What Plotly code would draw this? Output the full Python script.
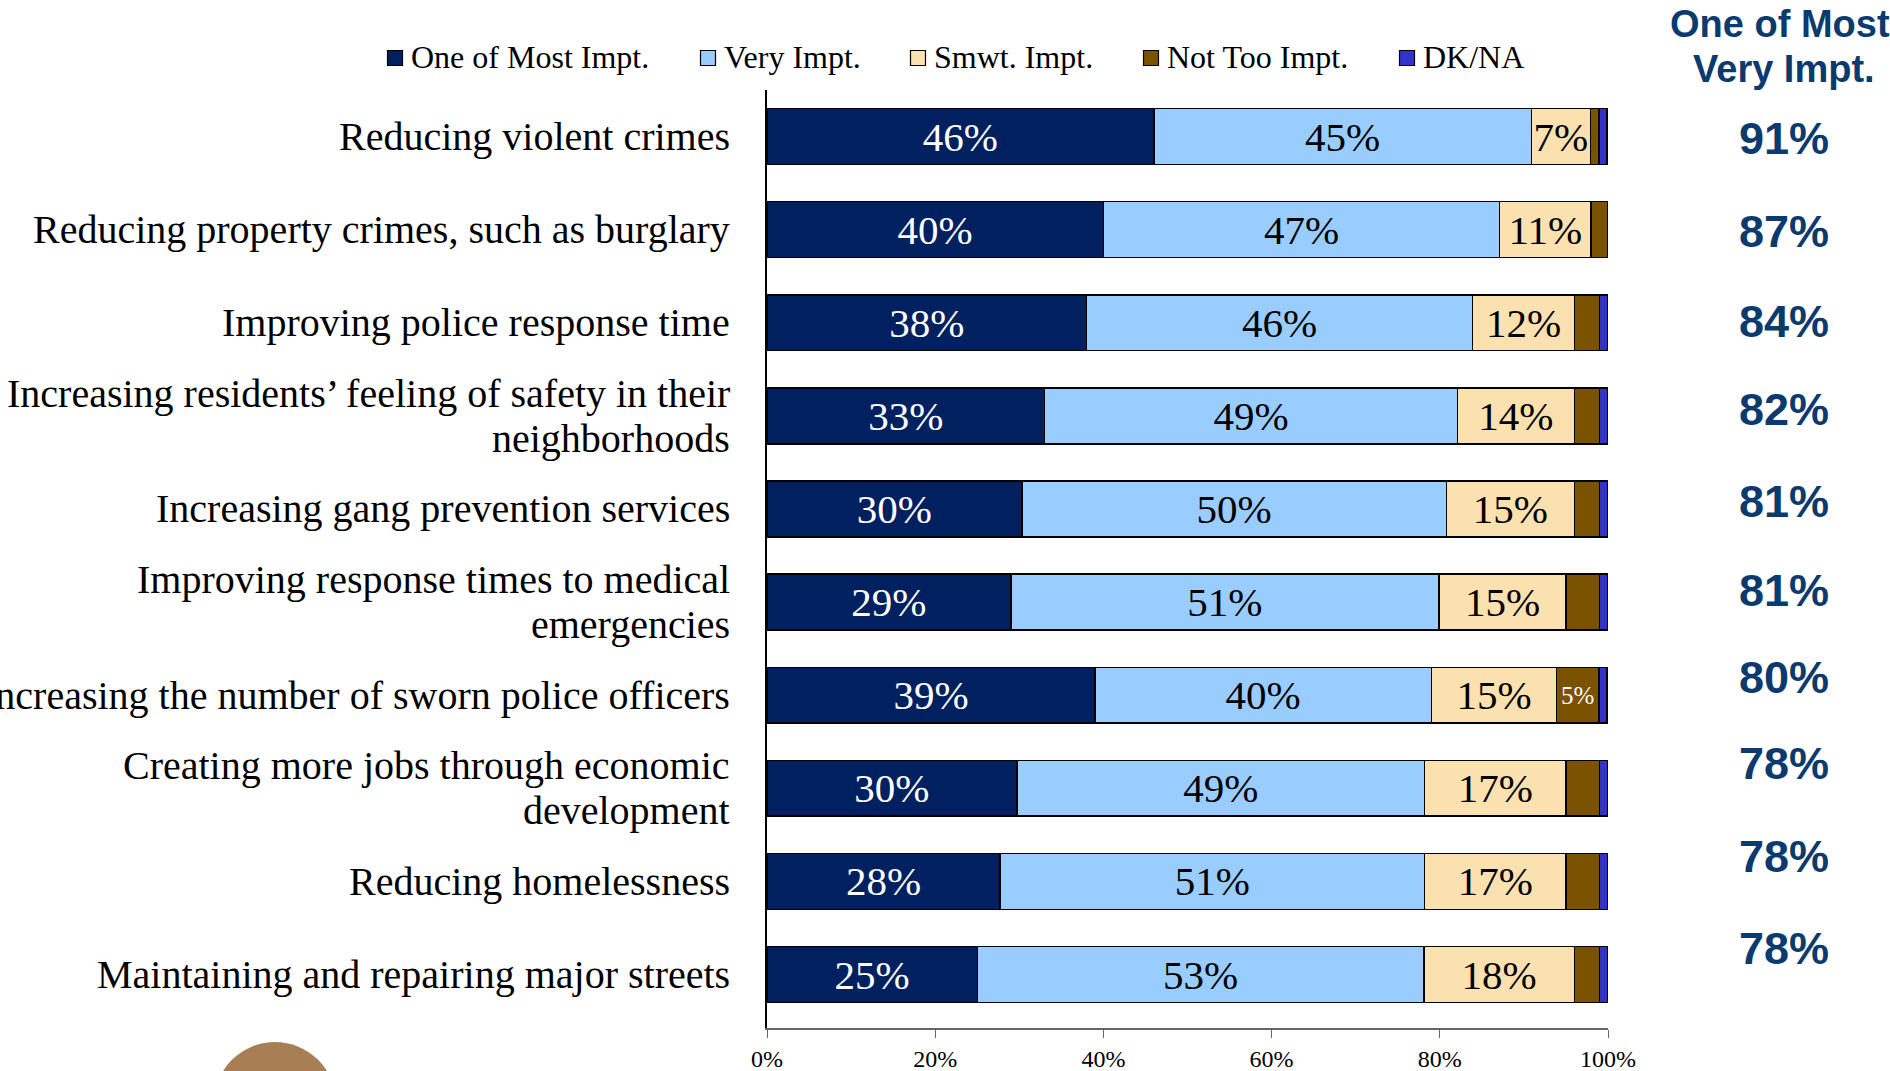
import plotly.graph_objects as go

# ---------------- data ----------------
categories = [
    "Reducing violent crimes",
    "Reducing property crimes, such as burglary",
    "Improving police response time",
    "Increasing residents’ feeling of safety in their<br>neighborhoods",
    "Increasing gang prevention services",
    "Improving response times to medical<br>emergencies",
    "Increasing the number of sworn police officers",
    "Creating more jobs through economic<br>development",
    "Reducing homelessness",
    "Maintaining and repairing major streets",
]
one_most = [46.0, 40.0, 38.0, 33.0, 30.3, 29.0, 39.0, 29.7, 27.7, 25.0]
very = [44.9, 47.1, 45.9, 49.1, 50.5, 50.9, 40.0, 48.5, 50.5, 53.1]
smwt = [7.0, 10.9, 12.1, 13.9, 15.2, 15.1, 14.9, 16.8, 16.8, 17.9]
not_too = [1.0, 2.0, 3.0, 3.0, 3.0, 4.0, 5.0, 4.0, 4.0, 3.0]
dkna = [1.0, 0.0, 1.0, 1.0, 1.0, 1.0, 1.0, 1.0, 1.0, 1.0]

one_most_labels = ["46%", "40%", "38%", "33%", "30%", "29%", "39%", "30%", "28%", "25%"]
very_labels = ["45%", "47%", "46%", "49%", "50%", "51%", "40%", "49%", "51%", "53%"]
smwt_labels = ["7%", "11%", "12%", "14%", "15%", "15%", "15%", "17%", "17%", "18%"]
not_too_labels = ["", "", "", "", "", "", "5%", "", "", ""]
dkna_labels = [""] * 10
combined_labels = ["91%", "87%", "84%", "82%", "81%", "81%", "80%", "78%", "78%", "78%"]

series_names = ["One of Most Impt.", "Very Impt.", "Smwt. Impt.", "Not Too Impt.", "DK/NA"]
tick_vals = [0, 20, 40, 60, 80, 100]
tick_text = ["0%", "20%", "40%", "60%", "80%", "100%"]

# ---------------- style ----------------
colors = ["#002060", "#99CCFF", "#FBE0B0", "#7A5200", "#3333CC"]
text_colors = ["white", "black", "black", "white", "white"]
serif = "Liberation Serif, Times New Roman, serif"
sans = "Liberation Sans, Arial, sans-serif"
header_color = "#0B3A6E"

W, H = 1890, 1071
PX0, PX1 = 767, 1608   # plot area x in px
PY0, PY1 = 90, 1028    # plot area y in px (top, bottom)


def px_x(p):
    return (p - PX0) / (PX1 - PX0)


def px_y(p):
    return (PY1 - p) / (PY1 - PY0)


fig = go.Figure()
series_vals = [one_most, very, smwt, not_too, dkna]
series_text = [one_most_labels, very_labels, smwt_labels, not_too_labels, dkna_labels]
for i, (name, vals, txt) in enumerate(zip(series_names, series_vals, series_text)):
    sizes = [25 if (i == 3) else 41 for _ in txt]
    fig.add_trace(go.Bar(
        y=categories, x=vals, name=name, orientation="h",
        marker=dict(color=colors[i], line=dict(color="black", width=1.5)),
        text=txt, textposition="inside", insidetextanchor="middle",
        textangle=0, constraintext="none",
        textfont=dict(family=serif, size=sizes, color=text_colors[i]),
        showlegend=False, hoverinfo="x+name",
    ))

annotations = []

# category labels (right aligned, tight line spacing)
for cat in categories:
    lines = cat.split("<br>")
    n = len(lines)
    for k, line in enumerate(lines):
        shift = (n - 1) / 2 * 44.6 - k * 44.6
        annotations.append(dict(
            x=px_x(732), xref="paper", y=cat, yref="y", yshift=shift,
            text=line, showarrow=False, xanchor="right", yanchor="middle",
            font=dict(family=serif, size=40, color="black"),
        ))

# right column: combined values
shifts = [-2, -2, 1.5, 6, 7, 12, 18, 24.5, 25, 26]
for cat, lab, s in zip(categories, combined_labels, shifts):
    annotations.append(dict(
        x=px_x(1784), xref="paper", y=cat, yref="y", yshift=s,
        text="<b>" + lab + "</b>", showarrow=False, xanchor="center", yanchor="middle",
        font=dict(family=sans, size=45, color=header_color),
    ))
annotations.append(dict(x=px_x(1780), xref="paper", y=px_y(24), yref="paper",
                        text="<b>One of Most</b>", showarrow=False, xanchor="center",
                        yanchor="middle", font=dict(family=sans, size=38, color=header_color)))
annotations.append(dict(x=px_x(1784), xref="paper", y=px_y(69), yref="paper",
                        text="<b>Very Impt.</b>", showarrow=False, xanchor="center",
                        yanchor="middle", font=dict(family=sans, size=38, color=header_color)))

# manual legend
shapes = []
legend_sq_x = [395, 708, 918, 1151, 1407]
for i, (name, sx) in enumerate(zip(series_names, legend_sq_x)):
    shapes.append(dict(type="rect", xref="paper", yref="paper",
                       x0=px_x(sx - 7.5), x1=px_x(sx + 7.5),
                       y0=px_y(58 + 7.5), y1=px_y(58 - 7.5),
                       fillcolor=colors[i], line=dict(color="black", width=1.2)))
    annotations.append(dict(x=px_x(sx + 14), xref="paper", y=px_y(57), yref="paper",
                            text=name, showarrow=False, xanchor="left", yanchor="middle",
                            font=dict(family=serif, size=32, color="black")))

# logo fragment at bottom left
shapes.append(dict(type="circle", xref="paper", yref="paper",
                   x0=px_x(275 - 61), x1=px_x(275 + 61),
                   y0=px_y(1103 + 61), y1=px_y(1103 - 61),
                   fillcolor="#A87F55", line=dict(color="#A87F55", width=0)))

fig.update_layout(
    width=W, height=H,
    margin=dict(l=PX0, r=W - PX1, t=PY0, b=H - PY1, autoexpand=False),
    barmode="stack", bargap=0.4,
    plot_bgcolor="white", paper_bgcolor="white",
    shapes=shapes, annotations=annotations,
    xaxis=dict(range=[0, 100], tickvals=tick_vals, ticktext=tick_text,
               showgrid=False, zeroline=False, showline=True,
               linecolor="#666666", linewidth=1.5,
               ticks="outside", ticklen=8, tickcolor="#666666", tickwidth=1.2,
               tickfont=dict(family=serif, size=24, color="black"),
               fixedrange=True),
    yaxis=dict(autorange="reversed", showgrid=False, zeroline=False,
               showline=True, linecolor="black", linewidth=1.5,
               ticks="", showticklabels=False,
               fixedrange=True),
)

fig.write_html("out.html")
